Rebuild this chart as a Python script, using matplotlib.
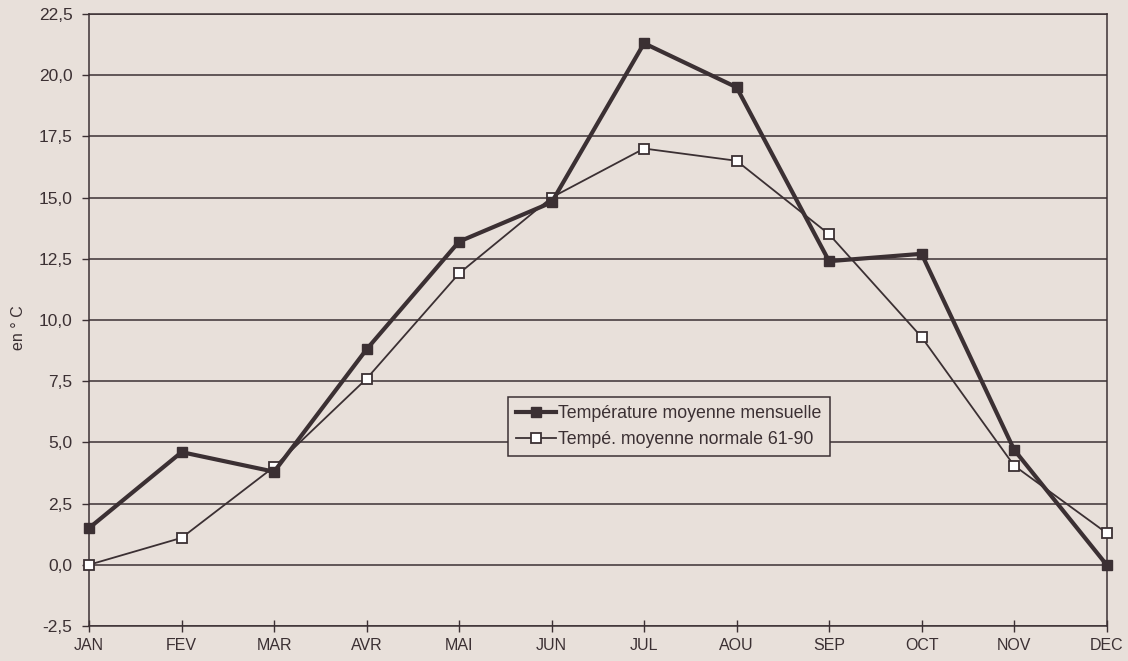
import matplotlib.pyplot as plt
import numpy as np

plt.rcParams["font.family"] = ["Liberation Sans", "DejaVu Sans"]

months = ["JAN", "FEV", "MAR", "AVR", "MAI", "JUN",
          "JUL", "AOU", "SEP", "OCT", "NOV", "DEC"]
temp_mensuelle = [1.5, 4.6, 3.8, 8.8, 13.2, 14.8, 21.3, 19.5, 12.4, 12.7, 4.7, 0.0]
temp_normale = [0.0, 1.1, 4.0, 7.6, 11.9, 15.0, 17.0, 16.5, 13.5, 9.3, 4.05, 1.3]
y_ticks = [-2.5, 0.0, 2.5, 5.0, 7.5, 10.0, 12.5, 15.0, 17.5, 20.0, 22.5]
y_tick_labels = ["-2,5", "0,0", "2,5", "5,0", "7,5", "10,0",
                 "12,5", "15,0", "17,5", "20,0", "22,5"]

bg = "#e8e0da"
ink = "#3b3033"

fig = plt.figure(figsize=(11.28, 6.61), dpi=100, facecolor=bg)
ax = fig.add_axes([0.079, 0.053, 0.902, 0.926], facecolor=bg)

x = np.arange(len(months))
ax.plot(x, temp_mensuelle, color=ink, lw=3, marker="s", ms=7,
        mfc=ink, mec=ink, label="Température moyenne mensuelle",
        zorder=4, clip_on=False)
ax.plot(x, temp_normale, color=ink, lw=1.3, marker="s", ms=7.5,
        mfc="white", mec=ink, mew=1.3, label="Tempé. moyenne normale 61-90",
        zorder=3, clip_on=False)

ax.set_xlim(0, len(months) - 1)
ax.set_ylim(-2.5, 22.5)
ax.set_xticks(x)
ax.set_xticklabels(months, fontsize=11.5, color=ink)
ax.set_yticks(y_ticks)
ax.set_yticklabels(y_tick_labels, fontsize=12.5, color=ink)
ax.tick_params(axis="x", direction="inout", length=8, width=1, color=ink, pad=5)
ax.tick_params(axis="y", direction="out", length=5, width=1, color=ink, pad=7)

ax.yaxis.grid(True, color=ink, lw=1.1)
ax.set_axisbelow(True)
for s in ax.spines.values():
    s.set_color(ink)
    s.set_linewidth(1.1)

fig.text(0.016, 0.505, "en ° C", rotation=90, fontsize=11.5, color=ink,
         ha="center", va="center")

leg = ax.legend(loc="upper left", bbox_to_anchor=(0.450, 0.3994),
                bbox_transform=fig.transFigure, borderaxespad=0,
                fontsize=12.8, frameon=True, fancybox=False,
                handlelength=2.3, handletextpad=0.1, labelspacing=0.5,
                borderpad=0.45)
leg.get_frame().set_edgecolor(ink)
leg.get_frame().set_facecolor(bg)
leg.get_frame().set_alpha(1)
leg.get_frame().set_linewidth(1.1)
for t in leg.get_texts():
    t.set_color(ink)

fig.savefig("out.png", dpi=100, facecolor=bg)
